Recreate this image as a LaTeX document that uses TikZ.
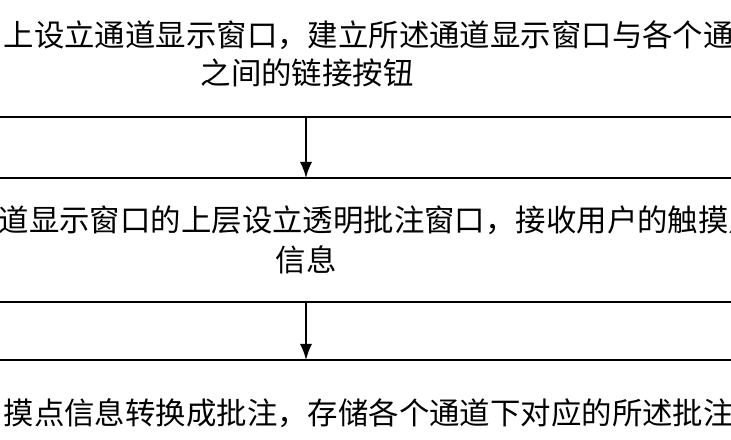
\documentclass[tikz,border=0pt]{standalone}
\usepackage{fontspec}
\setmainfont{Noto Sans CJK SC}
\usetikzlibrary{arrows}
\begin{document}
\begin{tikzpicture}[x=0.01cm,y=-0.01cm,
	txt/.style={anchor=west,inner sep=0pt,font=\fontsize{8.65pt}{10pt}\selectfont},
	edge/.style={line width=0.6pt},
	flow/.style={-latex,line width=0.6pt}]
		\useasboundingbox (0,0) rectangle (731,440);
		\clip (0,0) rectangle (731,440);
		% first box
		\node[txt] (s1a) at (3,35) {上设立通道显示窗口，建立所述通道显示窗口与各个通道};
		\node[txt] (s1b) at (200,73) {之间的链接按钮};
		\coordinate (b1l) at (-10,117);
		\coordinate (b1r) at (740,117);
		\draw[edge] (b1l) -- (b1r);
		% second box
		\coordinate (b2l) at (-10,178);
		\coordinate (b2r) at (740,178);
		\draw[edge] (b2l) -- (b2r);
		\node[txt] (s2a) at (-2,220) {道显示窗口的上层设立透明批注窗口，接收用户的触摸点};
		\node[txt] (s2b) at (275,260) {信息};
		\coordinate (b2d) at (-10,302);
		\coordinate (b2e) at (740,302);
		\draw[edge] (b2d) -- (b2e);
		% third box
		\coordinate (b3l) at (-10,360);
		\coordinate (b3r) at (740,360);
		\draw[edge] (b3l) -- (b3r);
		\node[txt] (s3a) at (3,413) {摸点信息转换成批注，存储各个通道下对应的所述批注};
		% arrows
		\coordinate (a1) at (306,117);
		\coordinate (a2) at (306,178);
		\coordinate (a3) at (306,302);
		\coordinate (a4) at (306,360);
		\draw[flow] (a1) -- (a2);
		\draw[flow] (a3) -- (a4);
	\end{tikzpicture}
\end{document}
